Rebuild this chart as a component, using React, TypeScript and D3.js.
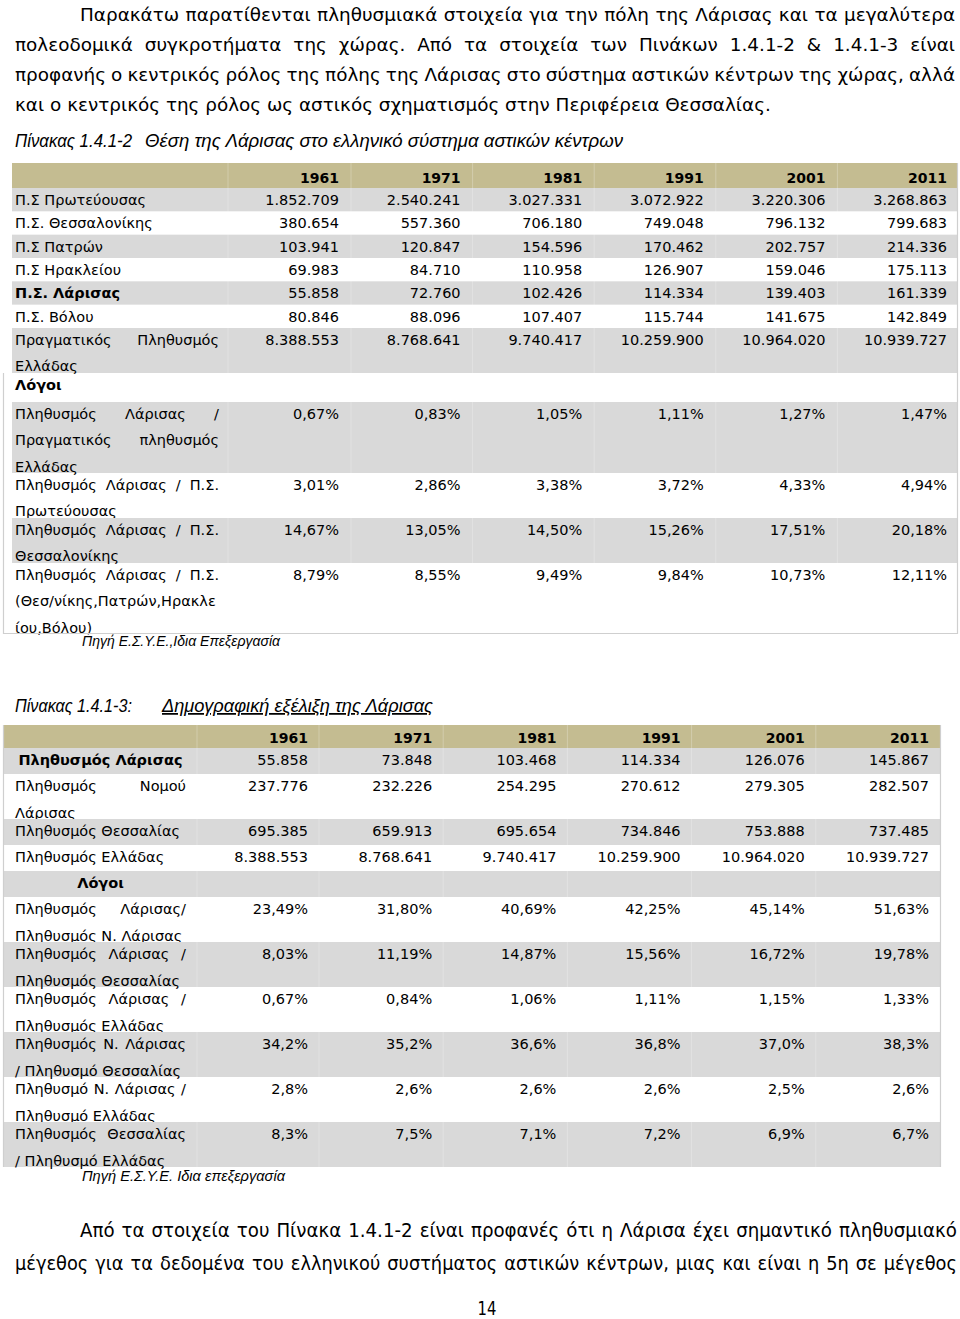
import React, { useEffect, useRef } from "react";
import * as d3 from "d3";

const W = 960;
const H = 1319;

// ---------- data ----------
const years = ["1961", "1971", "1981", "1991", "2001", "2011"];

const introLines = [
  "Παρακάτω παρατίθενται πληθυσμιακά στοιχεία για την πόλη της Λάρισας και τα μεγαλύτερα",
  "πολεοδομικά συγκροτήματα της χώρας. Από τα στοιχεία των Πινάκων 1.4.1-2 & 1.4.1-3 είναι",
  "προφανής ο κεντρικός ρόλος της πόλης της Λάρισας στο σύστημα αστικών κέντρων της χώρας, αλλά",
  "και ο κεντρικός της ρόλος ως αστικός σχηματισμός στην Περιφέρεια Θεσσαλίας.",
];
const outroLines = [
  "Από τα στοιχεία του Πίνακα 1.4.1-2 είναι προφανές ότι η Λάρισα έχει σημαντικό πληθυσμιακό",
  "μέγεθος για τα δεδομένα του ελληνικού συστήματος αστικών κέντρων, μιας και είναι η 5η σε μέγεθος",
];
const caption1a = "Πίνακας 1.4.1-2";
const caption1b = "Θέση της Λάρισας στο ελληνικό σύστημα αστικών κέντρων";
const caption2a = "Πίνακας 1.4.1-3:";
const caption2b = "Δημογραφική εξέλιξη της Λάρισας";
const source1 = "Πηγή Ε.Σ.Υ.Ε.,Ιδια Επεξεργασία";
const source2 = "Πηγή Ε.Σ.Υ.Ε. Ιδια επεξεργασία";
const sectionLabel = "Λόγοι";
const pageNumber = "14";

const t1Labels = [
  ["Π.Σ Πρωτεύουσας"],
  ["Π.Σ. Θεσσαλονίκης"],
  ["Π.Σ Πατρών"],
  ["Π.Σ Ηρακλείου"],
  ["Π.Σ. Λάρισας"],
  ["Π.Σ. Βόλου"],
  ["Πραγματικός Πληθυσμός", "Ελλάδας"],
];
const t1BoldIndex = 4;
const t1Values = [
  ["1.852.709", "2.540.241", "3.027.331", "3.072.922", "3.220.306", "3.268.863"],
  ["380.654", "557.360", "706.180", "749.048", "796.132", "799.683"],
  ["103.941", "120.847", "154.596", "170.462", "202.757", "214.336"],
  ["69.983", "84.710", "110.958", "126.907", "159.046", "175.113"],
  ["55.858", "72.760", "102.426", "114.334", "139.403", "161.339"],
  ["80.846", "88.096", "107.407", "115.744", "141.675", "142.849"],
  ["8.388.553", "8.768.641", "9.740.417", "10.259.900", "10.964.020", "10.939.727"],
];
const t1RatioLabels = [
  ["Πληθυσμός Λάρισας /", "Πραγματικός πληθυσμός", "Ελλάδας"],
  ["Πληθυσμός Λάρισας / Π.Σ.", "Πρωτεύουσας"],
  ["Πληθυσμός Λάρισας / Π.Σ.", "Θεσσαλονίκης"],
  ["Πληθυσμός Λάρισας / Π.Σ.", "(Θεσ/νίκης,Πατρών,Ηρακλε", "ίου,Βόλου)"],
];
const t1RatioValues = [
  ["0,67%", "0,83%", "1,05%", "1,11%", "1,27%", "1,47%"],
  ["3,01%", "2,86%", "3,38%", "3,72%", "4,33%", "4,94%"],
  ["14,67%", "13,05%", "14,50%", "15,26%", "17,51%", "20,18%"],
  ["8,79%", "8,55%", "9,49%", "9,84%", "10,73%", "12,11%"],
];

const t2Labels = [
  ["Πληθυσμός Λάρισας"],
  ["Πληθυσμός Νομού", "Λάρισας"],
  ["Πληθυσμός Θεσσαλίας"],
  ["Πληθυσμός Ελλάδας"],
];
const t2Values = [
  ["55.858", "73.848", "103.468", "114.334", "126.076", "145.867"],
  ["237.776", "232.226", "254.295", "270.612", "279.305", "282.507"],
  ["695.385", "659.913", "695.654", "734.846", "753.888", "737.485"],
  ["8.388.553", "8.768.641", "9.740.417", "10.259.900", "10.964.020", "10.939.727"],
];
const t2RatioLabels = [
  ["Πληθυσμός Λάρισας/", "Πληθυσμός Ν. Λάρισας"],
  ["Πληθυσμός Λάρισας /", "Πληθυσμός Θεσσαλίας"],
  ["Πληθυσμός Λάρισας /", "Πληθυσμός Ελλάδας"],
  ["Πληθυσμός Ν. Λάρισας", "/ Πληθυσμό Θεσσαλίας"],
  ["Πληθυσμό Ν. Λάρισας /", "Πληθυσμό Ελλάδας"],
  ["Πληθυσμός Θεσσαλίας", "/ Πληθυσμό Ελλάδας"],
];
const t2RatioValues = [
  ["23,49%", "31,80%", "40,69%", "42,25%", "45,14%", "51,63%"],
  ["8,03%", "11,19%", "14,87%", "15,56%", "16,72%", "19,78%"],
  ["0,67%", "0,84%", "1,06%", "1,11%", "1,15%", "1,33%"],
  ["34,2%", "35,2%", "36,6%", "36,8%", "37,0%", "38,3%"],
  ["2,8%", "2,6%", "2,6%", "2,6%", "2,5%", "2,6%"],
  ["8,3%", "7,5%", "7,1%", "7,2%", "6,9%", "6,7%"],
];

// ---------- styles ----------
const VERDANA = "'DejaVu Sans', Verdana, sans-serif";
const ARIAL = "'Liberation Sans', Arial, sans-serif";
const INK = "#000";
const OLIVE = "#c4bc91";
const GRAY = "#d9d9d9";
const BORDER = "#cfcfcf";

type TextOpts = {
  size: number;
  family: string;
  weight?: string;
  style?: string;
  justify?: boolean;
  anchor?: "start" | "middle" | "end";
  decoration?: string;
  textLength?: number;
  condenseGap?: number;
};

let ctx: CanvasRenderingContext2D | null = null;
function measure(text: string, o: TextOpts) {
  if (!ctx) ctx = document.createElement("canvas").getContext("2d");
  ctx!.font = `${o.style || "normal"} ${o.weight || "normal"} ${o.size}px ${o.family}`;
  return ctx!.measureText(text).width;
}

function putText(
  g: d3.Selection<SVGGElement, unknown, null, undefined>,
  text: string,
  x0: number,
  x1: number,
  y: number,
  o: TextOpts
) {
  const words = text.split(/\s+/).filter((w) => w.length);
  const base = (sel: any) =>
    sel
      .attr("font-family", o.family)
      .attr("font-size", o.size)
      .attr("font-weight", o.weight || "normal")
      .attr("font-style", o.style || "normal")
      .attr("fill", INK);
  if (o.justify && words.length > 1) {
    const widths = words.map((w) => measure(w, o));
    const total = d3.sum(widths);
    const minGap = measure(" ", o) * 0.5;
    let k = 1;
    let gap = (x1 - x0 - total) / (words.length - 1);
    if (o.condenseGap !== undefined) {
      gap = o.condenseGap;
      k = (x1 - x0 - gap * (words.length - 1)) / total;
    } else if (gap < minGap) {
      gap = minGap;
      k = (x1 - x0 - minGap * (words.length - 1)) / total;
    }
    let x = x0;
    words.forEach((w, i) => {
      base(g.append("text"))
        .attr("transform", `translate(${x},${y}) scale(${k},1)`)
        .text(w);
      x += widths[i] * k + gap;
    });
  } else {
    const anchor = o.anchor || "start";
    const x = anchor === "start" ? x0 : anchor === "end" ? x1 : (x0 + x1) / 2;
    const t = base(g.append("text"))
      .attr("x", x)
      .attr("y", y)
      .attr("text-anchor", anchor)
      .text(text);
    if (o.textLength) t.attr("textLength", o.textLength).attr("lengthAdjust", "spacingAndGlyphs");
    if (o.decoration) t.style("text-decoration", o.decoration);
  }
}

type Row = {
  lines: string[];
  values?: string[];
  bold?: boolean;
  center?: boolean;
  h: number;
};

function drawTable(
  g: d3.Selection<SVGGElement, unknown, null, undefined>,
  cfg: {
    top: number;
    bandX0: number;
    bandX1: number;
    labelX0: number;
    labelX1: number;
    colX: d3.ScaleLinear<number, number>;
    headerH: number;
    headerBase: number;
    firstBase: number;
    pitch: number;
    rows: Row[];
    sepX: number[];
  }
) {
  const cell: TextOpts = { size: 14.5, family: VERDANA };
  g.append("rect")
    .attr("x", cfg.bandX0)
    .attr("y", cfg.top)
    .attr("width", cfg.bandX1 - cfg.bandX0)
    .attr("height", cfg.headerH)
    .attr("fill", OLIVE);
  years.forEach((yr, i) => {
    putText(g, yr, 0, cfg.colX(i), cfg.top + cfg.headerBase, {
      size: 14,
      family: VERDANA,
      weight: "bold",
      anchor: "end",
    });
  });
  let y = cfg.top + cfg.headerH;
  cfg.rows.forEach((r, ri) => {
    if (ri % 2 === 0) {
      g.append("rect")
        .attr("x", cfg.bandX0)
        .attr("y", y)
        .attr("width", cfg.bandX1 - cfg.bandX0)
        .attr("height", r.h)
        .attr("fill", GRAY);
    }
    r.lines.forEach((ln, li) => {
      const last = li === r.lines.length - 1;
      putText(g, ln, cfg.labelX0, cfg.labelX1, y + cfg.firstBase + li * cfg.pitch, {
        ...cell,
        weight: r.bold ? "bold" : "normal",
        justify: !last && !r.center,
        anchor: r.center ? "middle" : "start",
      });
    });
    (r.values || []).forEach((v, i) => {
      putText(g, v, 0, cfg.colX(i), y + cfg.firstBase, { ...cell, anchor: "end" });
    });
    y += r.h;
  });
  cfg.sepX.forEach((sx) => {
    g.append("line")
      .attr("x1", sx)
      .attr("x2", sx)
      .attr("y1", cfg.top)
      .attr("y2", y)
      .attr("stroke", "#ffffff")
      .attr("stroke-opacity", 0.25)
      .attr("stroke-width", 1);
  });
  return y;
}

export default function App() {
  const ref = useRef<SVGSVGElement | null>(null);

  useEffect(() => {
    const svg = d3.select(ref.current);
    svg.selectAll("*").remove();
    svg.append("rect").attr("width", W).attr("height", H).attr("fill", "#fff");
    const g = svg.append("g") as d3.Selection<SVGGElement, unknown, null, undefined>;

    // intro paragraph
    const body: TextOpts = { size: 18.4, family: VERDANA };
    const introBase = [21, 51, 81, 111];
    introLines.forEach((ln, i) => {
      const last = i === introLines.length - 1;
      putText(g, ln, i === 0 ? 80 : 15, 955, introBase[i], { ...body, justify: !last });
    });

    // caption 1
    const cap: TextOpts = { size: 17.5, family: ARIAL, style: "italic" };
    putText(g, caption1a, 15, 0, 147, { ...cap, textLength: 117 });
    putText(g, caption1b, 145, 0, 147, { ...cap, textLength: 478 });

    // table 1
    const t1Rows: Row[] = [
      ...t1Labels.map((l, i) => ({
        lines: l,
        values: t1Values[i],
        bold: i === t1BoldIndex,
        h: l.length > 1 ? 45 : 23.33,
      })),
      { lines: [sectionLabel], bold: true, h: 29 },
      ...t1RatioLabels.map((l, i) => ({
        lines: l,
        values: t1RatioValues[i],
        h: l.length === 3 ? 71 : 45,
      })),
    ];
    const colX1 = d3.scaleLinear().domain([0, 5]).range([339, 947]);
    const t1Bottom = drawTable(g, {
      top: 163,
      bandX0: 12,
      bandX1: 957,
      labelX0: 15,
      labelX1: 219,
      colX: colX1,
      headerH: 25,
      headerBase: 19.5,
      firstBase: 17,
      pitch: 26.5,
      rows: t1Rows,
      sepX: [228, ...d3.range(0, 5).map((i) => colX1(i) + 12)],
    });
    g.append("path")
      .attr("d", `M3.5,373 V${t1Bottom - 0.5} H957.5 V163`)
      .attr("fill", "none")
      .attr("stroke", BORDER)
      .attr("stroke-width", 1.2);
    const src: TextOpts = { size: 14, family: ARIAL, style: "italic" };
    putText(g, source1, 82, 0, 646, { ...src, textLength: 198 });

    // caption 2
    putText(g, caption2a, 15, 0, 712, { ...cap, textLength: 117 });
    putText(g, caption2b, 162, 0, 712, { ...cap, textLength: 271, decoration: "underline" });

    // table 2
    const t2Rows: Row[] = [
      ...t2Labels.map((l, i) => ({
        lines: l,
        values: t2Values[i],
        bold: i === 0,
        center: i === 0,
        h: l.length > 1 ? 45 : 26,
      })),
      { lines: [sectionLabel], bold: true, center: true, h: 26 },
      ...t2RatioLabels.map((l, i) => ({
        lines: l,
        values: t2RatioValues[i],
        h: 45,
      })),
    ];
    const colX2 = d3.scaleLinear().domain([0, 5]).range([308, 929]);
    const t2Bottom = drawTable(g, {
      top: 725,
      bandX0: 3,
      bandX1: 940,
      labelX0: 15,
      labelX1: 186,
      colX: colX2,
      headerH: 23,
      headerBase: 18,
      firstBase: 17,
      pitch: 26.5,
      rows: t2Rows,
      sepX: [197, ...d3.range(0, 5).map((i) => colX2(i) + 11)],
    });
    g.append("path")
      .attr("d", `M3.5,725 V${t2Bottom} M940.5,725 V${t2Bottom}`)
      .attr("fill", "none")
      .attr("stroke", BORDER)
      .attr("stroke-width", 1.2);
    putText(g, source2, 82, 0, 1181, { ...src, textLength: 203 });

    // closing paragraph (condensed face emulated by horizontal scaling)
    const cond: TextOpts = { size: 20, family: VERDANA, condenseGap: 7 };
    const outroBase = [1237, 1270];
    outroLines.forEach((ln, i) => {
      putText(g, ln, i === 0 ? 80 : 15, 957, outroBase[i], { ...cond, justify: true });
    });
    // page number, same condensed look
    const k = 0.78;
    g.append("text")
      .attr("transform", `translate(487,1315) scale(${k},1)`)
      .attr("text-anchor", "middle")
      .attr("font-family", VERDANA)
      .attr("font-size", 19)
      .attr("fill", INK)
      .text(pageNumber);
  }, []);

  return (
    <svg
      ref={ref}
      width={W}
      height={H}
      style={{ position: "absolute", left: 0, top: 0, display: "block" }}
    />
  );
}
